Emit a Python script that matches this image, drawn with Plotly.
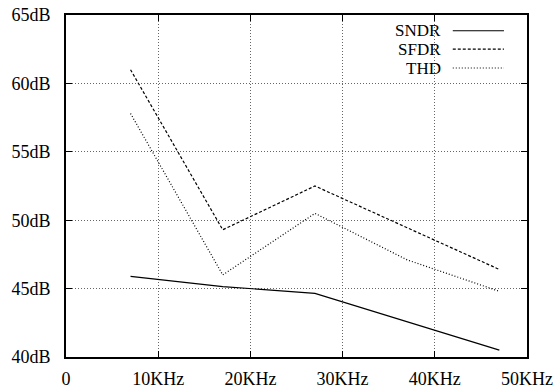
import plotly.graph_objects as go

freq_khz = [7, 17, 27, 37, 47]
sndr = [45.9, 45.15, 44.65, 42.57, 40.5]
sfdr = [61.0, 49.3, 52.5, 49.45, 46.4]
thd = [57.8, 46.0, 50.5, 47.1, 44.8]

x_ticks = [0, 10, 20, 30, 40, 50]
x_labels = ["0", "10KHz", "20KHz", "30KHz", "40KHz", "50KHz"]
y_ticks = [40, 45, 50, 55, 60, 65]
y_labels = ["40dB", "45dB", "50dB", "55dB", "60dB", "65dB"]

names = ["SNDR", "SFDR", "THD"]
dashes = ["solid", "3px,2px", "1px,2px"]
series = [sndr, sfdr, thd]

FONT = "Liberation Serif"

fig = go.Figure()
for n, d, s in zip(names, dashes, series):
    fig.add_trace(go.Scatter(x=freq_khz, y=s, mode="lines", name=n,
                             line=dict(color="black", width=1.2, dash=d),
                             showlegend=False))

# gnuplot-style legend: label on the left, line sample on the right
leg_y = [0.954, 0.900, 0.845]
for n, d, yy in zip(names, dashes, leg_y):
    fig.add_annotation(xref="paper", yref="paper", x=0.815, y=yy, text=n,
                       showarrow=False, xanchor="right", yanchor="middle",
                       borderpad=0,
                       font=dict(family=FONT, size=17, color="black"))
    fig.add_shape(type="line", xref="paper", yref="paper",
                  x0=0.839, x1=0.950, y0=yy, y1=yy,
                  line=dict(color="black", width=1.2, dash=d))

axis_common = dict(showline=True, linecolor="black", linewidth=1.6, mirror="allticks",
                   ticks="inside", ticklen=6, tickcolor="black", tickwidth=1,
                   showgrid=True, gridcolor="#666", griddash="1px,2px", gridwidth=1,
                   zeroline=False, automargin=False,
                   tickfont=dict(family=FONT, size=18, color="black"))

fig.update_xaxes(range=[0, 50], tickvals=x_ticks, ticktext=x_labels,
                 ticklabelstandoff=5, **axis_common)
fig.update_yaxes(range=[40, 65], tickvals=y_ticks, ticktext=y_labels,
                 ticklabelstandoff=10, **axis_common)

fig.update_layout(width=556, height=392, margin=dict(l=66, r=29, t=15, b=35),
                  plot_bgcolor="white", paper_bgcolor="white",
                  font=dict(family=FONT, size=18, color="black"))

fig.write_html("out.html")
